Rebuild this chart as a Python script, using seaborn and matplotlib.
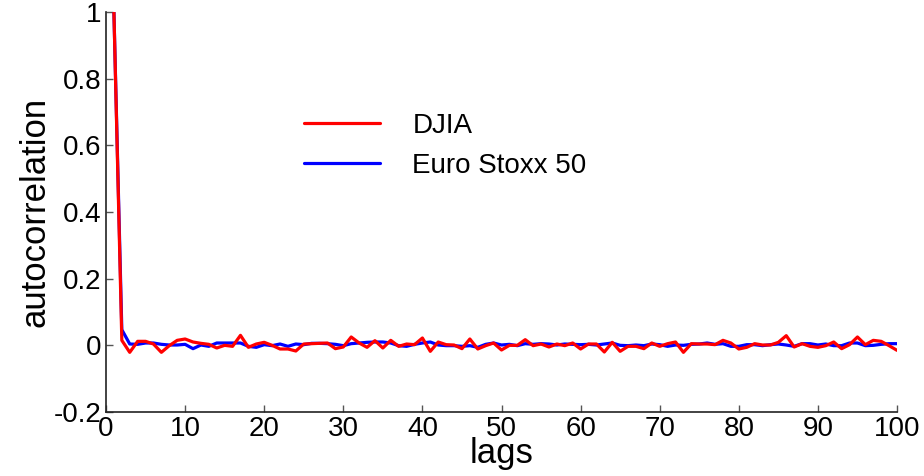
import numpy as np
import pandas as pd
import matplotlib
matplotlib.use("Agg")
import matplotlib.pyplot as plt
import seaborn as sns

lags = list(range(1, 101))
djia = [1.0, 0.015, -0.021, 0.012, 0.012, 0.004, -0.021, -0.001, 0.015, 0.019,
        0.010, 0.006, 0.003, -0.008, 0.000, -0.003, 0.030, -0.006, 0.004, 0.009,
        0.000, -0.011, -0.011, -0.017, 0.004, 0.005, 0.006, 0.007, -0.010, -0.005,
        0.025, 0.007, -0.006, 0.014, -0.008, 0.015, -0.003, 0.004, 0.002, 0.022,
        -0.018, 0.010, 0.002, 0.001, -0.010, 0.019, -0.011, -0.001, 0.007, -0.014,
        0.000, 0.000, 0.017, -0.001, 0.004, -0.005, 0.004, -0.001, 0.007, -0.011,
        0.004, 0.004, -0.020, 0.009, -0.018, -0.003, -0.003, -0.010, 0.007, -0.003,
        0.005, 0.010, -0.021, 0.005, 0.004, 0.004, 0.002, 0.015, 0.007, -0.011,
        -0.006, 0.005, 0.001, 0.001, 0.009, 0.029, -0.005, 0.005, -0.003, -0.006,
        -0.001, 0.010, -0.010, 0.002, 0.025, 0.002, 0.015, 0.012, -0.001, -0.015]
stoxx = [1.0, 0.047, 0.004, 0.003, 0.007, 0.007, 0.003, 0.001, 0.001, 0.003,
         -0.010, 0.001, -0.003, 0.007, 0.007, 0.007, 0.007, -0.003, -0.006, 0.002,
         -0.001, 0.004, -0.003, 0.004, 0.002, 0.006, 0.006, 0.005, 0.003, -0.001,
         0.005, 0.007, 0.009, 0.010, 0.010, 0.007, -0.001, -0.003, 0.003, 0.007,
         0.010, 0.001, -0.001, -0.001, -0.003, -0.001, -0.006, 0.003, 0.007, 0.001,
         0.003, -0.001, 0.005, 0.003, 0.005, 0.004, 0.001, 0.004, 0.003, 0.002,
         0.003, 0.001, 0.004, 0.007, 0.000, -0.001, 0.001, -0.001, 0.004, 0.002,
         -0.003, 0.001, 0.000, 0.003, 0.004, 0.007, 0.003, 0.005, -0.003, -0.003,
         0.002, 0.002, -0.001, 0.002, 0.004, 0.001, -0.003, 0.005, 0.005, 0.001,
         0.004, -0.001, -0.001, 0.007, 0.007, -0.001, 0.000, 0.003, 0.005, 0.005]
xticks = list(range(0, 101, 10))
yticks = [-0.2, 0, 0.2, 0.4, 0.6, 0.8, 1]
ytick_labels = ["-0.2", "0", "0.2", "0.4", "0.6", "0.8", "1"]

sns.set_style("ticks")
plt.rcParams['font.family'] = ['Liberation Sans', 'DejaVu Sans']
plt.rcParams['text.color'] = 'black'
plt.rcParams['axes.labelcolor'] = 'black'

fig = plt.figure(figsize=(9.24, 4.76), dpi=100)
ax = fig.add_axes([106/924, 64/476, (897-106)/924, (412-12)/476])

sns.lineplot(x=lags, y=stoxx, ax=ax, color="#0000ff", linewidth=2.3, label="Euro Stoxx 50")
sns.lineplot(x=lags, y=djia, ax=ax, color="#ff0000", linewidth=2.3, label="DJIA")

ax.set_xlim(0, 100)
ax.set_ylim(-0.2, 1)
ax.set_xticks(xticks)
ax.set_xticklabels([str(t) for t in xticks])
ax.set_yticks(yticks)
ax.set_yticklabels(ytick_labels)
for s in ["top", "right"]:
    ax.spines[s].set_visible(False)
for s in ["left", "bottom"]:
    ax.spines[s].set_color("#222222")
    ax.spines[s].set_linewidth(1.2)
ax.tick_params(axis="both", which="major", direction="in", length=5, width=1,
               color="#555555", labelsize=20, labelcolor="black", pad=3,
               bottom=True, left=True, top=False, right=False)
ax.set_xlabel("lags", fontsize=25, labelpad=-4, color="black")
ax.set_ylabel("autocorrelation", fontsize=25, labelpad=2, color="black")

handles, labels = ax.get_legend_handles_labels()
order = [1, 0]
leg = ax.legend([handles[i] for i in order], [labels[i] for i in order],
                loc="upper left", bbox_to_anchor=(279/924, 1 - 88/476),
                bbox_transform=fig.transFigure, frameon=False, fontsize=20,
                handlelength=2.75, handletextpad=1.15, labelspacing=0.5)
for t in leg.get_texts():
    t.set_color("black")

fig.savefig("out.png", dpi=100)
